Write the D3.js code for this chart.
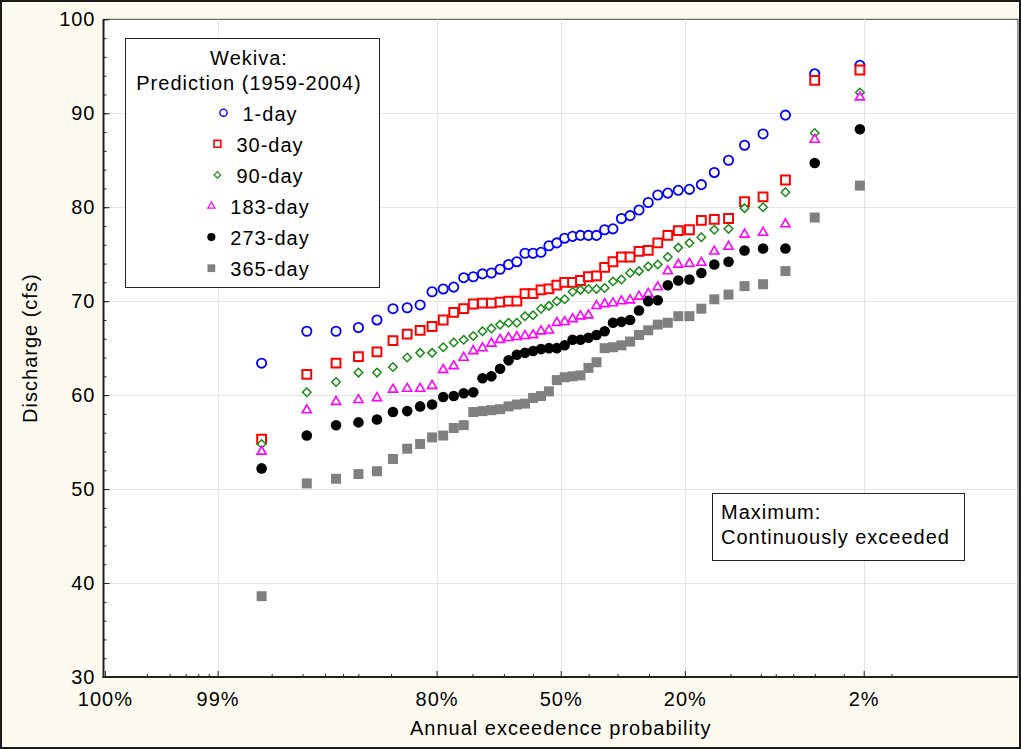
<!DOCTYPE html>
<html>
<head>
<meta charset="utf-8">
<script src="https://cdn.jsdelivr.net/npm/d3@7"></script>
<style>
  html, body { margin: 0; padding: 0; background: #fff; }
  svg { display: block; }
  text { font-family: "Liberation Sans", Arial, sans-serif; fill: #000; letter-spacing: 1px; }
</style>
</head>
<body>
<svg id="chart" width="1021" height="749"></svg>
<script>
// Wekiva annual discharge predictions, 1959-2004, sorted ascending (cfs)
const seriesNames = ["1-day", "30-day", "90-day", "183-day", "273-day", "365-day"];

const day1 = [63.4, 66.8, 66.8, 67.2, 68.0, 69.2, 69.3, 69.6, 71.0, 71.3,
              71.5, 72.5, 72.6, 72.9, 73.0, 73.4, 73.9, 74.2, 75.1, 75.1,
              75.2, 75.9, 76.2, 76.7, 76.9, 77.0, 77.0, 77.0, 77.6, 77.7,
              78.8, 79.1, 79.7, 80.5, 81.3, 81.5, 81.8, 81.9, 82.4, 83.7,
              85.0, 86.6, 87.8, 89.8, 94.2, 95.1];
const day30 = [55.3, 62.2, 63.4, 64.1, 64.6, 65.8, 66.5, 66.9, 67.3, 68.0,
               68.8, 69.2, 69.7, 69.8, 69.8, 69.9, 70.0, 70.0, 70.8, 70.8,
               71.2, 71.3, 71.7, 72.0, 72.0, 72.2, 72.6, 72.7, 73.6, 74.2,
               74.7, 74.7, 75.3, 75.4, 76.2, 77.0, 77.5, 77.6, 78.6, 78.7,
               78.8, 80.6, 81.1, 82.9, 93.5, 94.6];
const day90 = [54.8, 60.3, 61.4, 62.4, 62.4, 63.0, 64.0, 64.5, 64.5, 65.1,
               65.6, 65.9, 66.3, 66.8, 67.1, 67.5, 67.7, 67.7, 68.4, 68.5,
               69.2, 69.5, 70.0, 70.2, 71.0, 71.2, 71.3, 71.3, 71.4, 72.1,
               72.3, 73.0, 73.2, 73.7, 73.9, 74.7, 75.7, 76.2, 76.8, 77.6,
               77.7, 79.9, 80.0, 81.6, 87.9, 92.2];
const day183 = [54.0, 58.4, 59.3, 59.5, 59.7, 60.6, 60.7, 60.7, 61.0, 62.7,
                63.1, 64.0, 64.7, 65.0, 65.5, 65.9, 66.1, 66.2, 66.3, 66.4,
                66.8, 66.9, 67.7, 67.8, 68.1, 68.4, 68.5, 69.5, 69.7, 69.8,
                70.0, 70.1, 70.5, 70.8, 71.5, 73.2, 73.9, 74.0, 74.1, 75.3,
                75.8, 77.1, 77.3, 78.2, 87.2, 91.7];
const day273 = [52.2, 55.7, 56.8, 57.1, 57.4, 58.2, 58.3, 58.8, 59.0, 59.8,
                59.9, 60.2, 60.3, 61.8, 62.0, 62.8, 63.7, 64.3, 64.5, 64.7,
                64.9, 65.0, 65.0, 65.3, 65.9, 65.9, 66.1, 66.4, 66.8, 67.7,
                67.8, 68.0, 69.0, 70.0, 70.1, 71.7, 72.2, 72.3, 73.0, 73.9,
                74.2, 75.4, 75.6, 75.6, 84.7, 88.3];
const day365 = [38.6, 50.6, 51.1, 51.6, 51.9, 53.2, 54.3, 54.8, 55.5, 55.7,
                56.5, 56.8, 58.2, 58.3, 58.4, 58.5, 58.8, 59.0, 59.1, 59.7,
                59.9, 60.4, 61.6, 61.9, 62.0, 62.1, 62.9, 63.5, 65.0, 65.1,
                65.3, 65.7, 66.4, 66.9, 67.5, 67.7, 68.4, 68.4, 69.2, 70.2,
                70.7, 71.6, 71.8, 73.2, 78.9, 82.3];

// Axis ticks: exceedance probabilities and discharge
const probTicks = [0.999, 0.99, 0.8, 0.5, 0.2, 0.02];
const probMinorTicks = [0.9975, 0.996, 0.9945, 0.993, 0.9915,
                        0.975, 0.96, 0.945, 0.93, 0.915, 0.875,
                        0.725, 0.65, 0.575, 0.425, 0.35, 0.275,
                        0.125, 0.0875, 0.0725, 0.0575, 0.0425, 0.0275, 0.0125];
const yTicks = [30, 40, 50, 60, 70, 80, 90, 100];
const yMinorTicks = d3.range(30, 100.01, 2);

const series = [
  { name: seriesNames[0], values: day1,   symbol: d3.symbolCircle,   size: 68, fill: "#fff",    stroke: "#0000ff", sw: 1.8 },
  { name: seriesNames[1], values: day30,  symbol: d3.symbolSquare,   size: 78, fill: "#fff",    stroke: "#ff0000", sw: 2.0 },
  { name: seriesNames[2], values: day90,  symbol: d3.symbolDiamond2, size: 46, fill: "#fff",    stroke: "#178a17", sw: 1.5 },
  { name: seriesNames[3], values: day183, symbol: d3.symbolTriangle, size: 36, fill: "#fff",    stroke: "#ff00ff", sw: 1.6 },
  { name: seriesNames[4], values: day273, symbol: d3.symbolCircle,   size: 88, fill: "#000",    stroke: "none",    sw: 0 },
  { name: seriesNames[5], values: day365, symbol: d3.symbolSquare,   size: 100, fill: "#808080", stroke: "none",   sw: 0 }
];

// Inverse standard normal CDF (Acklam's rational approximation)
function normInv(p) {
  const a = [-3.969683028665376e+01, 2.209460984245205e+02, -2.759285104469687e+02,
              1.383577518672690e+02, -3.066479806614716e+01, 2.506628277459239e+00];
  const b = [-5.447609879822406e+01, 1.615858368580409e+02, -1.556989798598866e+02,
              6.680131188771972e+01, -1.328068155288572e+01];
  const c = [-7.784894002430293e-03, -3.223964580411365e-01, -2.400758277161838e+00,
             -2.549732539343734e+00, 4.374664141464968e+00, 2.938163982698783e+00];
  const d = [7.784695709041462e-03, 3.224671290700398e-01, 2.445134137142996e+00,
             3.754408661907416e+00];
  const pl = 0.02425, ph = 1 - pl;
  let q, r;
  if (p < pl) {
    q = Math.sqrt(-2 * Math.log(p));
    return (((((c[0]*q + c[1])*q + c[2])*q + c[3])*q + c[4])*q + c[5]) /
           ((((d[0]*q + d[1])*q + d[2])*q + d[3])*q + 1);
  }
  if (p <= ph) {
    q = p - 0.5; r = q * q;
    return (((((a[0]*r + a[1])*r + a[2])*r + a[3])*r + a[4])*r + a[5]) * q /
           (((((b[0]*r + b[1])*r + b[2])*r + b[3])*r + b[4])*r + 1);
  }
  q = Math.sqrt(-2 * Math.log(1 - p));
  return -(((((c[0]*q + c[1])*q + c[2])*q + c[3])*q + c[4])*q + c[5]) /
          ((((d[0]*q + d[1])*q + d[2])*q + d[3])*q + 1);
}
// exceedance probability -> normal score (high exceedance on the left)
const zOf = p => normInv(1 - p);

const W = 1021, H = 749;
const plot = { left: 103.5, right: 1018, top: 19.3, bottom: 677 };

const x = d3.scaleLinear().domain([-3.1, 3.1]).range([plot.left, plot.right]);
const y = d3.scaleLinear().domain([30, 100]).range([plot.bottom, plot.top]);

const svg = d3.select("#chart");

// page background and outer frame
svg.append("rect").attr("x", 0).attr("y", 0).attr("width", W).attr("height", H).attr("fill", "#fdfbef");
svg.append("rect").attr("x", 1).attr("y", 1).attr("width", W - 2).attr("height", H - 2)
   .attr("fill", "none").attr("stroke", "#1a1a1a").attr("stroke-width", 2);

// plotting area
svg.append("rect")
   .attr("x", plot.left).attr("y", plot.top)
   .attr("width", plot.right - plot.left).attr("height", plot.bottom - plot.top)
   .attr("fill", "#fff").attr("stroke", "#444").attr("stroke-width", 1);

// grid lines
const grid = svg.append("g").attr("stroke", "#c8c8c8").attr("stroke-width", 1).attr("stroke-dasharray", "1,1");
grid.selectAll("line.vx").data(probTicks.slice(1)).join("line")
    .attr("x1", d => Math.round(x(zOf(d))) + 0.5).attr("x2", d => Math.round(x(zOf(d))) + 0.5)
    .attr("y1", plot.top).attr("y2", plot.bottom);
grid.selectAll("line.hy").data(yTicks.slice(1, -1)).join("line")
    .attr("y1", d => Math.round(y(d)) + 0.5).attr("y2", d => Math.round(y(d)) + 0.5)
    .attr("x1", plot.left).attr("x2", plot.right);

// x axis: major ticks with labels, minor ticks pointing inward
const xAxis = d3.axisBottom(x)
  .tickValues(probTicks.map(zOf))
  .tickFormat((z, i) => d3.format(".0%")(probTicks[i]))
  .tickSizeInner(-6).tickSizeOuter(0).tickPadding(22);
const gx = svg.append("g").attr("transform", `translate(0,${plot.bottom})`).call(xAxis);
gx.select(".domain").remove();
gx.selectAll(".tick line").attr("stroke", "#222");
gx.selectAll(".tick text").attr("font-size", 20).attr("dy", 0).attr("y", 29);

const xMinor = d3.axisBottom(x).tickValues(probMinorTicks.map(zOf)).tickFormat("")
  .tickSizeInner(-3).tickSizeOuter(0);
const gxm = svg.append("g").attr("transform", `translate(0,${plot.bottom})`).call(xMinor);
gxm.select(".domain").remove();
gxm.selectAll(".tick line").attr("stroke", "#222");

// y axis
const yAxis = d3.axisLeft(y).tickValues(yTicks).tickFormat(d3.format("d"))
  .tickSizeInner(-6).tickSizeOuter(0).tickPadding(14);
const gy = svg.append("g").attr("transform", `translate(${plot.left},0)`).call(yAxis);
gy.select(".domain").remove();
gy.selectAll(".tick line").attr("stroke", "#222");
gy.selectAll(".tick text").attr("font-size", 20).attr("x", -8);

const yMinor = d3.axisLeft(y).tickValues(yMinorTicks).tickFormat("")
  .tickSizeInner(-3).tickSizeOuter(0);
const gym = svg.append("g").attr("transform", `translate(${plot.left},0)`).call(yMinor);
gym.select(".domain").remove();
gym.selectAll(".tick line").attr("stroke", "#222");

// axis lines
svg.append("line").attr("x1", plot.left).attr("x2", plot.left).attr("y1", plot.top).attr("y2", plot.bottom + 1)
   .attr("stroke", "#222").attr("stroke-width", 2);
svg.append("line").attr("x1", plot.left - 1).attr("x2", plot.right).attr("y1", plot.bottom).attr("y2", plot.bottom)
   .attr("stroke", "#222").attr("stroke-width", 2);

// axis titles
svg.append("text").attr("x", (plot.left + plot.right) / 2).attr("y", 735)
   .attr("text-anchor", "middle").attr("font-size", 20).text("Annual exceedence probability");
svg.append("text").attr("transform", `translate(37,${(plot.top + plot.bottom) / 2}) rotate(-90)`)
   .attr("text-anchor", "middle").attr("font-size", 20).text("Discharge (cfs)");

// data points at Weibull plotting positions
const marks = svg.append("g");
series.forEach(s => {
  const n = s.values.length;
  const sym = d3.symbol().type(s.symbol).size(s.size);
  marks.append("g").selectAll("path").data(s.values).join("path")
    .attr("d", sym)
    .attr("transform", (v, i) => `translate(${x(zOf(1 - (i + 1) / (n + 1)))},${y(v)})`)
    .attr("fill", s.fill).attr("stroke", s.stroke).attr("stroke-width", s.sw);
});

// legend
const lg = svg.append("g");
lg.append("rect").attr("x", 125.5).attr("y", 38.5).attr("width", 254).attr("height", 249)
  .attr("fill", "#fff").attr("stroke", "#222").attr("stroke-width", 1);
lg.append("text").attr("x", 249).attr("y", 65).attr("text-anchor", "middle").attr("font-size", 20).text("Wekiva:");
lg.append("text").attr("x", 249).attr("y", 90).attr("text-anchor", "middle").attr("font-size", 20).text("Prediction (1959-2004)");
series.forEach((s, i) => {
  const cy = 112.7 + i * 31.1;
  const row = lg.append("g");
  const label = row.append("text").attr("font-size", 20).attr("y", cy + 8).text(s.name);
  const tw = label.node().getComputedTextLength();
  const symW = 10, gap = 14;
  const x0 = 258 - (symW + gap + tw) / 2;
  label.attr("x", x0 + symW + gap);
  row.append("path")
    .attr("d", d3.symbol().type(s.symbol).size(s.size * 0.6)())
    .attr("transform", `translate(${x0 + symW / 2},${cy})`)
    .attr("fill", s.fill).attr("stroke", s.stroke).attr("stroke-width", s.sw * 0.8);
});

// annotation box
const note = svg.append("g");
note.append("rect").attr("x", 712.5).attr("y", 493.5).attr("width", 252).attr("height", 67)
  .attr("fill", "#fff").attr("stroke", "#222").attr("stroke-width", 1);
note.append("text").attr("x", 721).attr("y", 519).attr("font-size", 20).text("Maximum:");
note.append("text").attr("x", 721).attr("y", 544).attr("font-size", 20).text("Continuously exceeded");
</script>
</body>
</html>
